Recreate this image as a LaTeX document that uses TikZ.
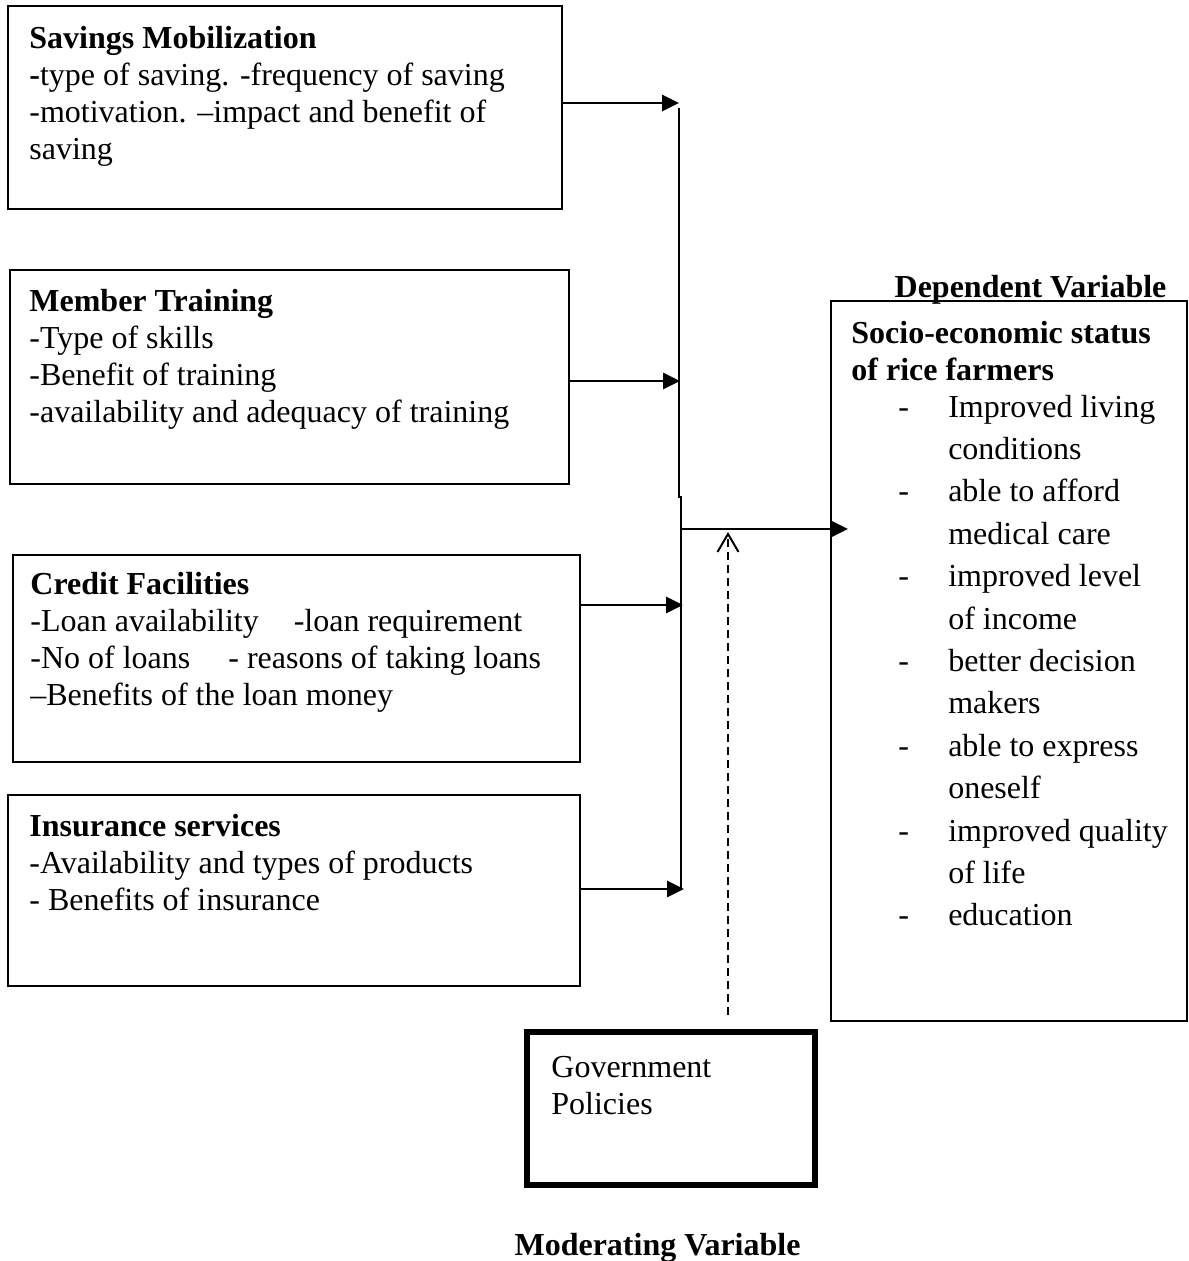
\documentclass[tikz,border=0pt]{standalone}
\usepackage{fontspec}
\setmainfont{Liberation Serif}
\usetikzlibrary{arrows.meta}
\begin{document}
\begin{tikzpicture}[x=0.5pt,y=-0.5pt,
  box/.style={draw, line width=0.9pt, inner sep=0, outer sep=0},
  txt/.style={anchor=north west, inner sep=0, font=\fontsize{16pt}{18.5pt}\selectfont},
  arr/.style={line width=1.4pt, -{Triangle[length=8.5pt,width=8pt]}},
  vline/.style={line width=1pt},
  darr/.style={line width=1pt, dash pattern=on 4pt off 2.5pt, -{Straight Barb[length=9pt,width=10.5pt]}}
]
\useasboundingbox (0,0) rectangle (1188,1261);

% boxes
\node[box, minimum width=277pt, minimum height=101.5pt] (sm) at (285,107.5) {};
\node[box, minimum width=279.5pt, minimum height=107pt] (mt) at (289.5,377) {};
\node[box, minimum width=283.5pt, minimum height=103.5pt] (cf) at (296.5,658.5) {};
\node[box, minimum width=286pt, minimum height=95.5pt] (ins) at (294,890.5) {};
\node[box, minimum width=178pt, minimum height=360pt] (ses) at (1009,661) {};
\node[draw, line width=3pt, inner sep=0, minimum width=144pt, minimum height=76.5pt] (gov) at (671,1108.5) {};

% texts
\node[txt] (smT) at (29,22) {\begin{tabular}{@{}l@{}}
\textbf{Savings Mobilization}\\
\textbf{-}type of saving. -frequency of saving\\
-motivation. –impact and benefit of\\
saving\end{tabular}};
\node[txt] (mtT) at (29,285) {\begin{tabular}{@{}l@{}}
\textbf{Member Training}\\
-Type of skills\\
-Benefit of training\\
-availability and adequacy of training\end{tabular}};
\node[txt] (cfT) at (30,568) {\begin{tabular}{@{}l@{}}
\textbf{Credit Facilities}\\
-Loan availability\hspace{17.5pt}-loan requirement\\
-No of loans\hspace{19pt}- reasons of taking loans\\
–Benefits of the loan money\end{tabular}};
\node[txt] (insT) at (29,810) {\begin{tabular}{@{}l@{}}
\textbf{Insurance services}\\
-Availability and types of products\\
- Benefits of insurance\end{tabular}};
\node[txt] (sesT) at (851,317) {\begin{tabular}{@{}l@{}}
\textbf{Socio-economic status}\\
\textbf{of rice farmers}\end{tabular}};
\node[txt, font=\fontsize{16pt}{21.2pt}\selectfont] (sesL) at (898,387) {\begin{tabular}{@{}l@{\hspace{19.6pt}}l@{}}
- & Improved living\\
  & conditions\\
- & able to afford\\
  & medical care\\
- & improved level\\
  & of income\\
- & better decision\\
  & makers\\
- & able to express\\
  & oneself\\
- & improved quality\\
  & of life\\
- & education\end{tabular}};
\node[txt] (govT) at (551,1051) {\begin{tabular}{@{}l@{}}
Government\\
Policies\end{tabular}};
\node[anchor=base, inner sep=0, font=\fontsize{16pt}{18.5pt}\selectfont\bfseries] (dep) at (1030.5,298) {Dependent Variable};
\node[anchor=base, inner sep=0, font=\fontsize{16pt}{18.5pt}\selectfont\bfseries] (mod) at (657.5,1255) {Moderating Variable};

% junction coordinates
\coordinate (v1top) at (679,108);
\coordinate (v1bot) at (679,497);
\coordinate (v2top) at (681,497);
\coordinate (v2bot) at (681,889);
\coordinate (t1) at (679,103);
\coordinate (t2) at (680,381);
\coordinate (t3) at (683,605);
\coordinate (t4) at (684,889);
\coordinate (j5) at (681,529);
\coordinate (t5) at (848,529);
\coordinate (d0) at (728,1015);
\coordinate (d1) at (728,532);

% connectors
\draw[vline] (v1top) -- (v1bot) -- (v2top) -- (v2bot);
\draw[arr] (sm.east |- t1) -- (t1);
\draw[arr] (mt.east |- t2) -- (t2);
\draw[arr] (cf.east |- t3) -- (t3);
\draw[arr] (ins.east |- t4) -- (t4);
\draw[arr] (j5) -- (t5);
\draw[darr] (d0) -- (d1);
\end{tikzpicture}
\end{document}
